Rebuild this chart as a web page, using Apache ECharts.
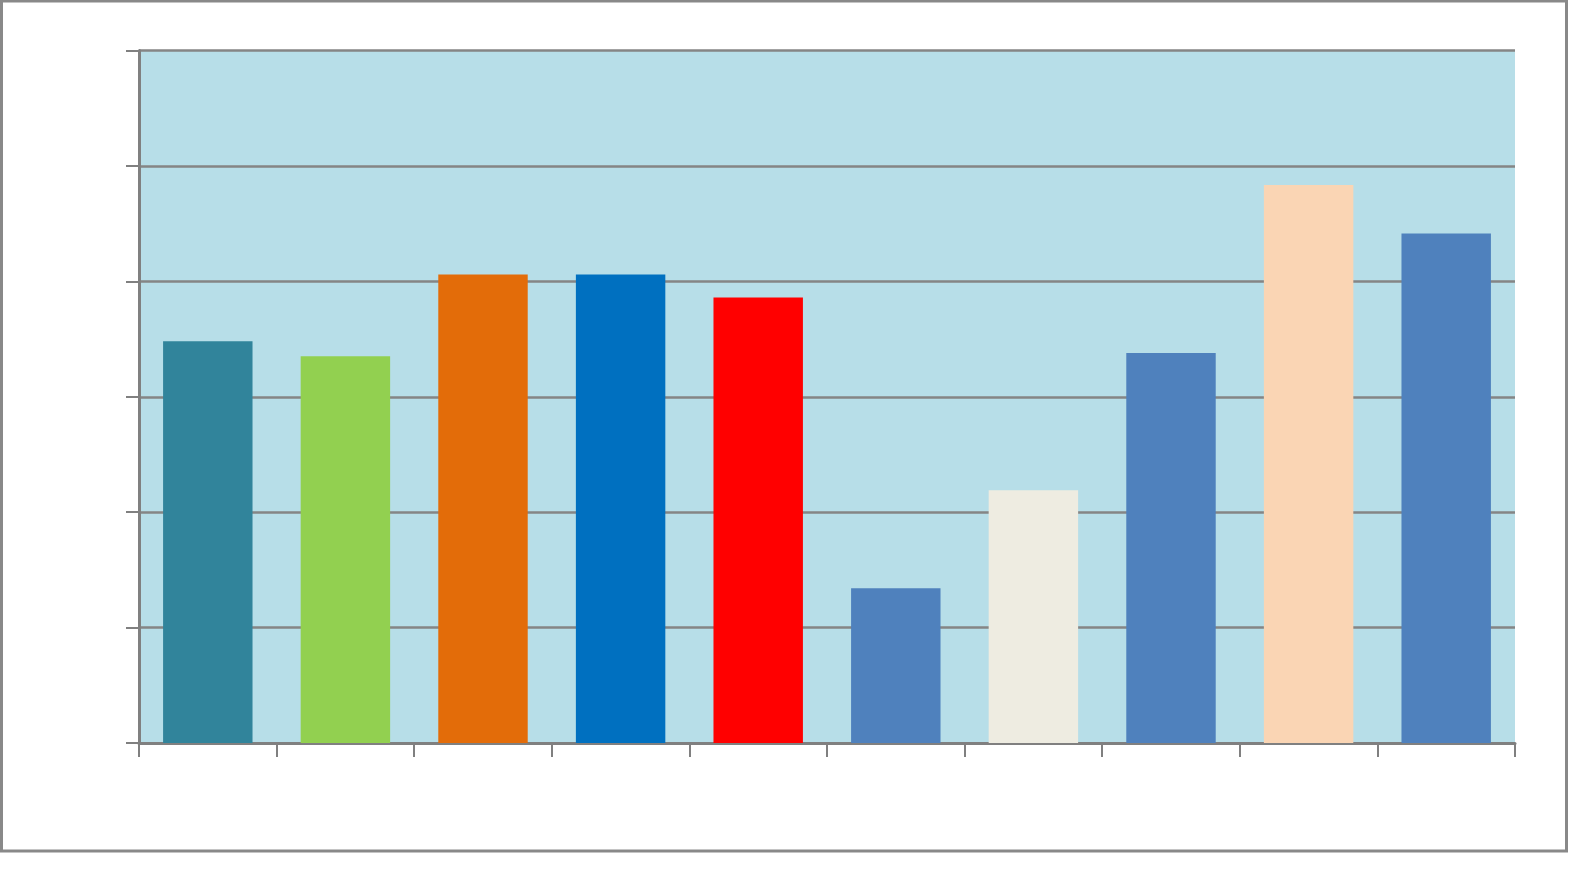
<!DOCTYPE html>
<html>
<head>
<meta charset="utf-8">
<script src="https://cdn.jsdelivr.net/npm/echarts@6/dist/echarts.min.js"></script>
<style>
html,body{margin:0;padding:0;background:#fff;}
#chart{width:1581px;height:875px;}
</style>
</head>
<body>
<div id="chart"></div>
<script>
const categories = ["1","2","3","4","5","6","7","8","9","10"];
const values = [3.48, 3.35, 4.06, 4.06, 3.86, 1.34, 2.19, 3.38, 4.835, 4.415];
const barColors = ["#31849B","#92D050","#E36C09","#0070C0","#FF0000","#4F81BD","#EEECE1","#4F81BD","#FAD5B4","#4F81BD"];
const yTicks = [0, 1, 2, 3, 4, 5, 6];

const chart = echarts.init(document.getElementById('chart'), null, {renderer:'canvas'});
chart.setOption({
  animation:false,
  backgroundColor:'#ffffff',
  graphic:[{
    type:'rect', silent:true, z:100,
    shape:{x:1.5, y:1, width:1565, height:850},
    style:{fill:'none', stroke:'#898989', lineWidth:3}
  }],
  grid:{left:139, top:50.5, right:66, bottom:132, show:true, backgroundColor:'#B7DEE8', borderWidth:0},
  xAxis:{
    type:'category', data:categories,
    axisLine:{lineStyle:{color:'#808080', width:3}},
    axisTick:{show:true, length:14, lineStyle:{color:'#808080', width:2}},
    axisLabel:{show:false}
  },
  yAxis:{
    type:'value', min:yTicks[0], max:yTicks[yTicks.length-1], interval:1,
    axisLine:{show:true, lineStyle:{color:'#808080', width:3}},
    axisTick:{show:true, length:13, lineStyle:{color:'#808080', width:2}},
    axisLabel:{show:false},
    splitLine:{show:true, lineStyle:{color:'#858585', width:2.5}}
  },
  series:[{
    type:'bar',
    barCategoryGap:'35%',
    data: values.map((v,i)=>({value:v, itemStyle:{color:barColors[i]}}))
  }]
});
</script>
</body>
</html>
